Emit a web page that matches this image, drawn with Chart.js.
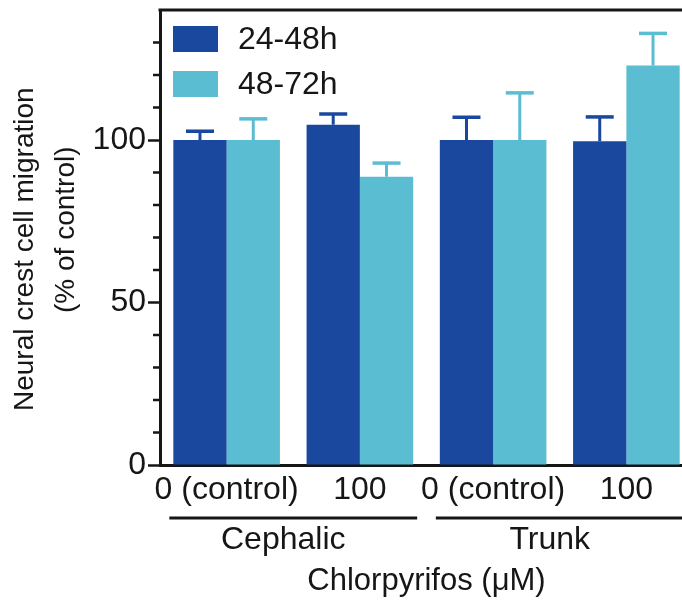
<!DOCTYPE html>
<html>
<head>
<meta charset="utf-8">
<script src="https://cdn.jsdelivr.net/npm/chart.js@4.4.1/dist/chart.umd.min.js"></script>
<style>
  html, body { margin: 0; padding: 0; background: #fff; overflow: hidden; }
  #wrap { width: 700px; height: 600px; }
</style>
</head>
<body>
<div id="wrap"><canvas id="myChart"></canvas></div>
<script>
// categories
var doses = ['0 (control)', '100', '0 (control)', '100'];
var regions = ['Cephalic', 'Trunk'];

// series (% of control) and their upper error bars
var early = [100, 104.7, 100, 99.6];
var earlyErr = [2.7, 3.3, 7.0, 7.5];
var late = [100, 88.7, 100, 122.9];
var lateErr = [6.5, 4.2, 14.5, 9.9];

var seriesNames = ['24-48h', '48-72h'];
var yTicks = [0, 50, 100];

var darkBlue = '#1a489f';
var lightBlue = '#5bbdd1';
var ink = '#161616';
var font = '"Liberation Sans", Arial, sans-serif';

// error bars, minor ticks, frame line, group underlines and legend
var extras = {
    id: 'extras',
    afterDatasetsDraw: function(chart) {
        var ctx = chart.ctx;
        var yScale = chart.scales.y;
        var xScale = chart.scales.x;
        var area = chart.chartArea;
        var errs = [earlyErr, lateErr];

        ctx.save();
        chart.data.datasets.forEach(function(ds, i) {
            var meta = chart.getDatasetMeta(i);
            ctx.strokeStyle = ds.backgroundColor;
            meta.data.forEach(function(bar, j) {
                var top = yScale.getPixelForValue(ds.data[j] + errs[i][j]);
                ctx.lineWidth = 3;
                ctx.beginPath();
                ctx.moveTo(bar.x, bar.y);
                ctx.lineTo(bar.x, top);
                ctx.stroke();
                ctx.lineWidth = 3.5;
                ctx.beginPath();
                ctx.moveTo(bar.x - 14, top);
                ctx.lineTo(bar.x + 14, top);
                ctx.stroke();
            });
        });

        // minor ticks on y
        ctx.strokeStyle = ink;
        ctx.lineWidth = 2.5;
        for (var v = 10; v < 140; v += 10) {
            if (yTicks.indexOf(v) >= 0) continue;
            var py = yScale.getPixelForValue(v);
            ctx.beginPath();
            ctx.moveTo(area.left - 7, py);
            ctx.lineTo(area.left, py);
            ctx.stroke();
        }

        // top frame line
        ctx.lineWidth = 3;
        ctx.beginPath();
        ctx.moveTo(area.left - 1.5, area.top);
        ctx.lineTo(area.right + 10, area.top);
        ctx.stroke();

        // region underlines
        var catW = xScale.getPixelForValue(1) - xScale.getPixelForValue(0);
        var ly = xScale.bottom + 3;
        for (var g = 0; g < regions.length; g++) {
            ctx.beginPath();
            ctx.moveTo(xScale.getPixelForValue(2 * g) - 0.43 * catW, ly);
            ctx.lineTo(xScale.getPixelForValue(2 * g + 1) + 0.43 * catW, ly);
            ctx.stroke();
        }

        // legend inside the plot
        ctx.font = '32px ' + font;
        ctx.textBaseline = 'middle';
        ctx.textAlign = 'left';
        chart.data.datasets.forEach(function(ds, i) {
            var bx = area.left + 13;
            var by = area.top + 16 + i * 45;
            ctx.fillStyle = ds.backgroundColor;
            ctx.fillRect(bx, by, 45, 26);
            ctx.fillStyle = ink;
            ctx.fillText(ds.label, bx + 65, by + 14);
        });
        ctx.restore();
    }
};

const data = {
    labels: doses,
    datasets: [{
        label: seriesNames[0],
        backgroundColor: darkBlue,
        data: early
    }, {
        label: seriesNames[1],
        backgroundColor: lightBlue,
        data: late
    }]
};

const config = {
    type: 'bar',
    data: data,
    options: {
        responsive: true,
        maintainAspectRatio: false,
        animation: false,
        layout: { padding: { top: 10, right: 7, left: 0, bottom: 0 } },
        datasets: { bar: { barPercentage: 1.0, categoryPercentage: 0.8, borderWidth: 0 } },
        plugins: { legend: { display: false }, tooltip: { enabled: false } },
        scales: {
            x: {
                position: 'bottom',
                grid: { display: false, drawTicks: false },
                border: { display: true, color: ink, width: 3 },
                ticks: { color: ink, padding: 6, autoSkip: false, maxRotation: 0, font: { family: font, size: 32 } },
                afterFit: function(scale) { scale.height = 50; scale.paddingLeft = 0; scale.paddingRight = 0; }
            },
            x2: {
                type: 'category',
                position: 'bottom',
                labels: regions,
                offset: true,
                grid: { display: false, drawTicks: false },
                border: { display: false },
                ticks: { color: ink, padding: 6, autoSkip: false, labelOffset: -10, font: { family: font, size: 32 } },
                title: {
                    display: true,
                    text: 'Chlorpyrifos (μM)',
                    color: ink,
                    padding: { top: 0, bottom: 0 },
                    font: { family: font, size: 31 }
                },
                afterFit: function(scale) { scale.height = 85; scale.paddingLeft = 0; scale.paddingRight = 0; }
            },
            y: {
                min: 0,
                max: 140,
                ticks: {
                    stepSize: 10,
                    autoSkip: false,
                    color: ink,
                    padding: 2,
                    font: { family: font, size: 32 },
                    callback: function(v) { return yTicks.indexOf(v) >= 0 ? v : ''; }
                },
                grid: {
                    drawOnChartArea: false,
                    tickLength: 12,
                    tickWidth: 2.5,
                    tickColor: function(c) { return yTicks.indexOf(c.tick.value) >= 0 ? ink : 'rgba(0,0,0,0)'; }
                },
                border: { display: true, color: ink, width: 3 },
                title: {
                    display: true,
                    text: ['Neural crest cell migration   ', '  (% of control)'],
                    color: ink,
                    padding: { top: 5, bottom: 0 },
                    font: { family: font, size: 28, lineHeight: 1.46 }
                },
                afterFit: function(scale) { scale.width = 160; scale.paddingTop = 0; scale.paddingBottom = 0; }
            }
        }
    },
    plugins: [extras]
};

const myChart = new Chart(document.getElementById('myChart'), config);
</script>
</body>
</html>
